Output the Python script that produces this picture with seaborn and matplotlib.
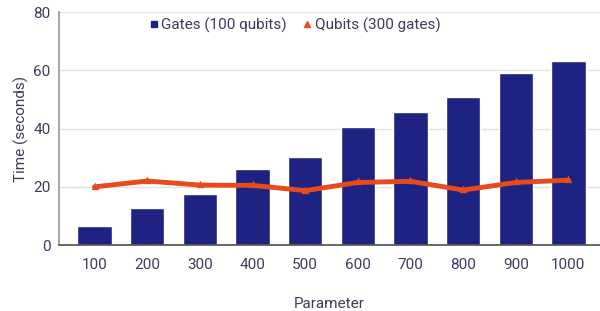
import numpy as np
import pandas as pd
import seaborn as sns
import matplotlib.pyplot as plt
from matplotlib.lines import Line2D

# values
parameter = [100, 200, 300, 400, 500, 600, 700, 800, 900, 1000]
gates_time = [6.5, 12.7, 17.6, 26.1, 30.3, 40.4, 45.7, 50.7, 59.2, 63.1]
qubits_time = [20.0, 22.0, 20.6, 20.5, 18.7, 21.5, 21.9, 18.9, 21.5, 22.3]

BAR = "#1e2382"
LINE = "#e84a1c"
TEXT = "#3b3d5c"

sns.set_theme(style="white")
plt.rcParams["font.family"] = ["Roboto", "DejaVu Sans"]

df = pd.DataFrame({"Parameter": [str(p) for p in parameter],
                   "Gates": gates_time,
                   "Qubits": qubits_time})

fig, ax = plt.subplots(figsize=(6, 3.11), dpi=100)
fig.subplots_adjust(left=0.098, right=1.0, top=0.961, bottom=0.212)

sns.barplot(data=df, x="Parameter", y="Gates", color=BAR, width=0.65,
            saturation=1, ax=ax, zorder=2)
sns.pointplot(data=df, x="Parameter", y="Qubits", color=LINE, markers="^",
              markersize=1.2, linewidth=3.5, ax=ax, zorder=3)

ax.set_ylim(0, 80)
ax.set_yticks([0, 20, 40, 60, 80])
ax.set_xlim(-0.68, 9.6)
ax.yaxis.grid(True, color="#e2e2e2", linewidth=1, zorder=0)
ax.set_axisbelow(True)

for s in ["top", "right"]:
    ax.spines[s].set_visible(False)
ax.spines["left"].set_color("#9a9a9a")
ax.spines["bottom"].set_color("#555555")

ax.tick_params(axis="x", length=6, direction="inout", color="#555555",
               labelsize=11, labelcolor=TEXT, pad=6)
ax.tick_params(axis="y", length=0, labelsize=11, labelcolor=TEXT, pad=6)

ax.set_xlabel("Parameter", fontsize=11, color=TEXT, labelpad=18)
ax.set_ylabel("Time (seconds)", fontsize=11, color=TEXT, labelpad=3)

handles = [Line2D([], [], color=BAR, marker="s", linestyle="", markersize=5),
           Line2D([], [], color=LINE, marker="^", linestyle="", markersize=4)]
fig.legend(handles, ["Gates (100 qubits)", "Qubits (300 gates)"],
           loc="center", bbox_to_anchor=(0.49, 0.918), ncol=2, frameon=False,
           fontsize=11, labelcolor=TEXT, handletextpad=0.1, columnspacing=0.9,
           handlelength=0.8)

fig.savefig("out.png", dpi=100)
